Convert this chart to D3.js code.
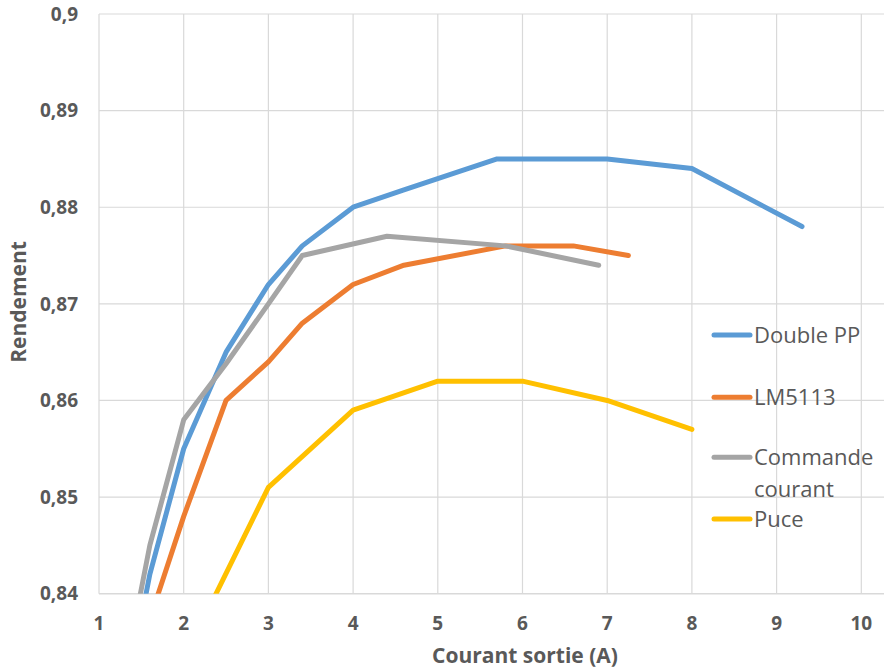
<!DOCTYPE html>
<html><head><meta charset="utf-8">
<script src="https://cdn.jsdelivr.net/npm/d3@7"></script>
<style>body{margin:0;background:#fff}svg{display:block}</style>
</head><body>
<svg id="c" width="884" height="670"></svg>
<script>
const seriesNames = ["Double PP", "LM5113", "Commande courant", "Puce"];
const seriesColors = ["#5B9BD5", "#ED7D31", "#A5A5A5", "#FFC000"];
const doublePP = [[1.5,0.8375],[1.6,0.842],[2,0.855],[2.5,0.865],[3,0.872],[3.4,0.876],[4,0.88],[4.6,0.8818],[5.7,0.885],[7,0.885],[8,0.884],[9.3,0.878]];
const lm5113 = [[1.5,0.8347],[2,0.848],[2.5,0.86],[3,0.864],[3.4,0.868],[4,0.872],[4.6,0.874],[5.8,0.876],[6.6,0.876],[7.25,0.875]];
const commande = [[1.4,0.836],[1.6,0.845],[2,0.858],[2.5,0.8638],[3,0.87],[3.4,0.875],[4.4,0.877],[5.8,0.876],[6.9,0.874]];
const puce = [[2,0.8332],[3,0.851],[4,0.859],[5,0.862],[6,0.862],[7,0.86],[8,0.857]];
const xTicks = [1,2,3,4,5,6,7,8,9,10];
const yTicks = [0.84,0.85,0.86,0.87,0.88,0.89,0.9];
const allSeries = [doublePP, lm5113, commande, puce];

(function(){
const svg = d3.select("#c");
const pL = 99, pR = 884, pT = 14, pB = 593.7;
const x = d3.scaleLinear().domain([1, 10]).range([pL, pL + 9*84.7]);
const y = d3.scaleLinear().domain([0.84, 0.9]).range([pB, pT]);
const fmt = d => d3.format(".2~f")(d).replace(".", ",");
const FONT = "Open Sans, sans-serif";

svg.append("defs").append("clipPath").attr("id","clip")
  .append("rect").attr("x", pL).attr("y", pT).attr("width", pR-pL).attr("height", pB-pT);

const g = svg.append("g");
g.selectAll(".hg").data(yTicks).join("line")
  .attr("x1", pL).attr("x2", pR)
  .attr("y1", d => y(d)).attr("y2", d => y(d))
  .attr("stroke", "#D9D9D9").attr("stroke-width", d => d === 0.84 ? 1.6 : 1.2);
g.selectAll(".vg").data(xTicks).join("line")
  .attr("x1", d => x(d)).attr("x2", d => x(d))
  .attr("y1", pT).attr("y2", pB)
  .attr("stroke", "#D9D9D9").attr("stroke-width", 1.2);

svg.append("g").selectAll("text").data(yTicks).join("text")
  .attr("x", 78).attr("y", d => y(d)).attr("dy", "0.35em")
  .attr("text-anchor", "end")
  .attr("font-family", FONT).attr("font-weight", "bold")
  .attr("font-size", 19).attr("fill", "#595959")
  .text(fmt);
svg.append("g").selectAll("text").data(xTicks).join("text")
  .attr("x", d => x(d)).attr("y", 623).attr("dy", "0.35em")
  .attr("text-anchor", "middle")
  .attr("font-family", FONT).attr("font-weight", "bold")
  .attr("font-size", 19).attr("fill", "#595959")
  .text(d => d);

svg.append("text").attr("x", 525).attr("y", 656).attr("dy", "0.35em")
  .attr("text-anchor", "middle")
  .attr("font-family", FONT).attr("font-weight", "bold")
  .attr("font-size", 21).attr("fill", "#595959")
  .text("Courant sortie (A)");
svg.append("text").attr("transform", "translate(19,302) rotate(-90)").attr("dy", "0.35em")
  .attr("text-anchor", "middle")
  .attr("font-family", FONT).attr("font-weight", "bold")
  .attr("font-size", 21).attr("fill", "#595959")
  .text("Rendement");

const line = d3.line().x(d => x(d[0])).y(d => y(d[1]));
svg.append("g").attr("clip-path", "url(#clip)")
  .selectAll("path").data(allSeries).join("path")
  .attr("d", line).attr("fill", "none")
  .attr("stroke", (d,i) => seriesColors[i]).attr("stroke-width", 5)
  .attr("stroke-linejoin", "round").attr("stroke-linecap", "round");

const legY = [335, 397.3, 457.3, 519];
const leg = svg.append("g");
seriesNames.forEach((name, i) => {
  leg.append("line").attr("x1", 714).attr("x2", 750).attr("y1", legY[i]).attr("y2", legY[i])
    .attr("stroke", seriesColors[i]).attr("stroke-width", 5).attr("stroke-linecap", "round");
  const t = leg.append("text").attr("x", 754).attr("y", legY[i]).attr("dy", "0.35em")
    .attr("font-family", FONT).attr("font-size", 22).attr("fill", "#595959");
  if (name === "Commande courant") {
    t.append("tspan").attr("x", 754).text("Commande");
    t.append("tspan").attr("x", 754).attr("dy", "1.45em").text("courant");
  } else t.text(name);
});
})();
</script>
</body></html>
